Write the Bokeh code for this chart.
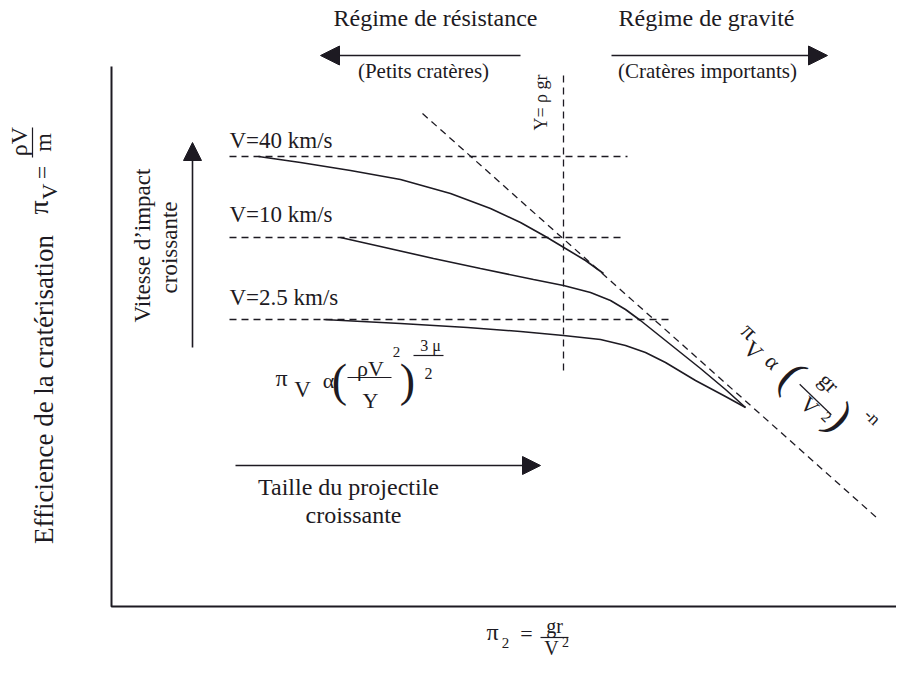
import numpy as np
from bokeh.plotting import figure
from bokeh.models import Range1d, Arrow, NormalHead
from bokeh.core.properties import value
from bokeh.embed import file_html
from bokeh.resources import INLINE

# ---- Schematic values (picture pixel units: x right, y down) ----
VELOCITY_LABELS = ["V=40 km/s", "V=10 km/s", "V=2.5 km/s"]
PLATEAU_LEVEL = [156, 237, 319]          # strength-regime plateau of each velocity
PLATEAU_X0 = [229, 229, 229]
PLATEAU_X1 = [627, 622, 673]

V40_X = [258, 300, 350, 400, 450, 490, 520, 545, 565, 585, 603]
V40_Y = [156, 162, 170, 179, 193, 208, 222, 236, 248, 260, 273]
V10_X = [340, 380, 433, 480, 533, 563, 590, 610, 625, 640, 670, 700, 725, 745]
V10_Y = [237, 246, 258, 268, 279, 285, 292, 300, 309, 320, 344, 368, 389, 407]
V25_X = [323, 400, 467, 520, 563, 600, 625, 645, 665, 695, 725, 745]
V25_Y = [319, 323, 327, 331, 335, 339, 345, 352, 362, 380, 396, 407]

GRAVITY_X = [422, 876]      # gravity-regime asymptote
GRAVITY_Y = [113, 517]
TRANSITION_X = [563, 563]   # Y = rho g r transition
TRANSITION_Y = [75, 370]

INK = "#1d1a22"
SERIF = value("Liberation Serif")
K_BASE = 0.34   # baseline correction (fraction of font size)

p = figure(width=896, height=661, x_range=Range1d(0, 896), y_range=Range1d(661, 0),
           output_backend="svg", toolbar_location=None, min_border=0,
           x_axis_location=None, y_axis_location=None)
p.grid.visible = False
p.outline_line_color = None
p.background_fill_color = "white"


def T(x, y, s, size, angle=0.0, align="center"):
    x = x - K_BASE * size * np.sin(angle)
    y = y - K_BASE * size * np.cos(angle)
    p.text(x=[x], y=[y], text=[s], angle=angle, text_font=SERIF,
           text_font_size=f"{size}px", text_align=align, text_baseline="alphabetic",
           text_color=INK)


def arrow(x0, y0, x1, y1, size=18):
    p.add_layout(Arrow(end=NormalHead(size=size, fill_color=INK, line_color=INK),
                       x_start=x0, y_start=y0, x_end=x1, y_end=y1,
                       line_width=1.6, line_color=INK))


# axes
p.line(x=[111, 111, 896], y=[66, 606, 606], line_width=2, color=INK)

# dashed guides
p.segment(x0=PLATEAU_X0, y0=PLATEAU_LEVEL, x1=PLATEAU_X1, y1=PLATEAU_LEVEL,
          line_dash="7 5", line_width=1.3, color=INK)
p.line(GRAVITY_X, GRAVITY_Y, line_dash="7 5", line_width=1.3, color=INK)
p.line(TRANSITION_X, TRANSITION_Y, line_dash="7 5", line_width=1.3, color=INK)

# curves
for xs, ys in [(V40_X, V40_Y), (V10_X, V10_Y), (V25_X, V25_Y)]:
    p.line(xs, ys, line_width=1.6, color=INK)

# velocity labels
for lab, base in zip(VELOCITY_LABELS, [148, 222, 305]):
    T(229, base, lab, 23, align="left")

# top regime labels and arrows
T(435, 26, "Régime de résistance", 24)
T(706, 26, "Régime de gravité", 24)
T(423, 78, "(Petits cratères)", 21)
T(707, 78, "(Cratères importants)", 21)
arrow(520, 55, 320, 55, size=19)
arrow(611, 55, 827, 55, size=19)

# Y = rho g r label (vertical)
T(547, 102, "Y= ρ gr", 18, angle=np.pi / 2)

# velocity arrow + label
arrow(192, 347, 192, 142)
T(150, 245, "Vitesse d’impact", 23, angle=np.pi / 2)
T(177, 247, "croissante", 23, angle=np.pi / 2)

# size arrow + label
arrow(235, 465, 540, 465)
T(348, 495, "Taille du projectile", 24)
T(353, 523, "croissante", 24)

# strength-regime formula
T(281, 386, "π", 24)
T(302, 397, "V", 23)
T(328, 387, "α", 22)
T(339, 396, "(", 46)
T(370, 375, "ρV", 22)
T(396, 357, "2", 15)
p.segment(x0=[347], y0=[377], x1=[391], y1=[377], line_width=1.2, color=INK)
T(370, 407, "Y", 22)
T(407, 396, ")", 46)
T(430, 350, "3 μ", 16)
p.segment(x0=[413], y0=[355], x1=[443], y1=[355], line_width=1.2, color=INK)
T(428, 378, "2", 16)

# gravity-regime formula (rotated along the asymptote)
theta = np.deg2rad(44)
B = (815, 399)
R = (np.cos(theta), np.sin(theta))
D = (-np.sin(theta), np.cos(theta))


def loc(u, v):
    return B[0] + u * R[0] + v * D[0], B[1] + u * R[1] + v * D[1]


for u, v, s, size in [(-95, 5, "π", 24), (-79, 16, "V", 23), (-57, 10, "α", 22),
                      (-33, 14, "(", 46), (-2, -14, "gr", 22), (0, 16, "V", 22),
                      (20, 10, "2", 15), (30, 11, ")", 46), (53, -21, "-n", 18)]:
    x, y = loc(u, v)
    T(x, y, s, size, angle=-theta)
(xa, ya), (xb, yb) = loc(-22, 0), loc(22, 0)
p.segment(x0=[xa], y0=[ya], x1=[xb], y1=[yb], line_width=1.2, color=INK)

# y-axis title (vertical)
T(53, 389, "Efficience de la cratérisation", 27, angle=np.pi / 2)
T(48, 207, "π", 28, angle=np.pi / 2)
T(56, 191, "V", 22, angle=np.pi / 2)
T(50, 172, "=", 24, angle=np.pi / 2)
T(27, 141, "ρV", 24, angle=np.pi / 2)
p.segment(x0=[32], y0=[127], x1=[32], y1=[157], line_width=1.2, color=INK)
T(51, 142, "m", 24, angle=np.pi / 2)

# x-axis title
T(492, 640, "π", 24)
T(505, 648, "2", 15)
T(526, 640, "=", 22)
T(554, 632, "gr", 20)
p.segment(x0=[540], y0=[637], x1=[568], y1=[637], line_width=1.2, color=INK)
T(551, 654, "V", 20)
T(565, 646, "2", 14)

open("out.html", "w").write(file_html(p, INLINE))
